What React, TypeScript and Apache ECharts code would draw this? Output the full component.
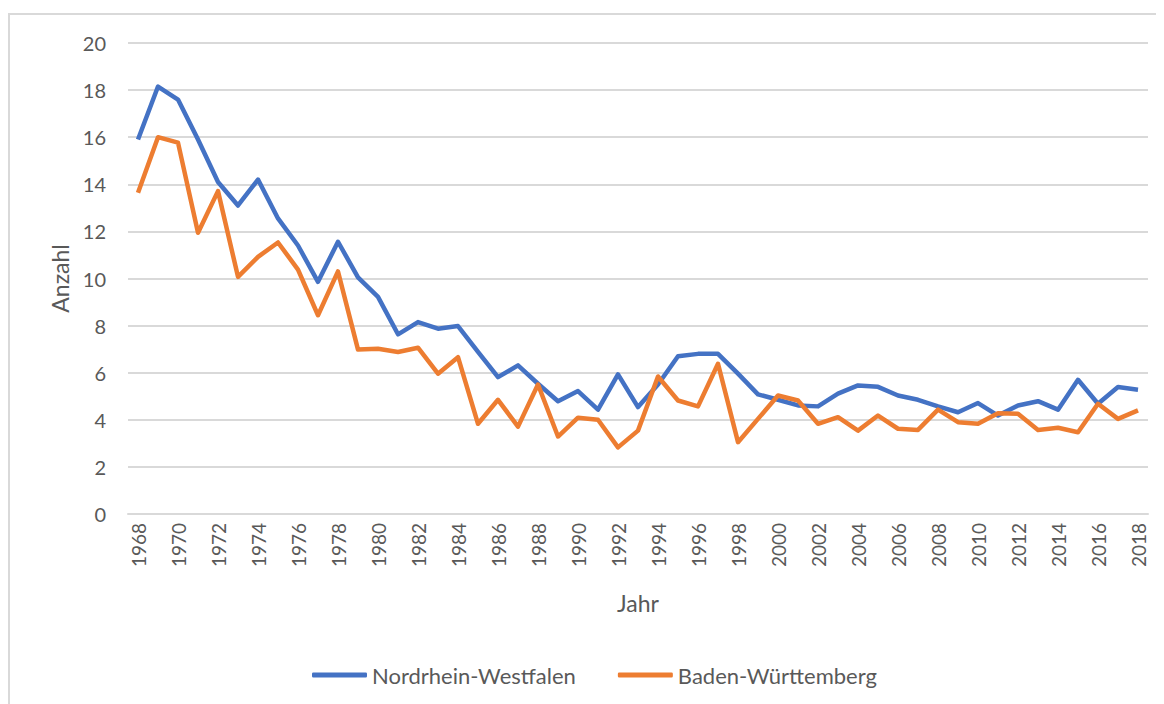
import React, { useEffect, useRef } from "react";
import * as echarts from "echarts";

const years: string[] = [];
for (let y = 1968; y <= 2018; y++) years.push(String(y));

const nrw = [
  15.9, 18.15, 17.6, 15.9, 14.1, 13.1, 14.2, 12.55, 11.4, 9.86, 11.56, 10.05,
  9.22, 7.63, 8.15, 7.87, 7.98, 6.88, 5.81, 6.31, 5.53, 4.79,
  5.22, 4.43, 5.93, 4.54, 5.5, 6.7, 6.8, 6.8, 5.96, 5.08,
  4.85, 4.61, 4.57, 5.11, 5.46, 5.4, 5.03, 4.85, 4.57, 4.32,
  4.71, 4.18, 4.61, 4.79, 4.43, 5.7, 4.68, 5.39, 5.28,
];

const bw = [
  13.64, 16.0, 15.77, 11.94, 13.71, 10.07, 10.92, 11.53, 10.38, 8.44, 10.3, 6.98,
  7.02, 6.88, 7.06, 5.96, 6.66, 3.83, 4.85, 3.71, 5.5, 3.29,
  4.09, 4.0, 2.83, 3.54, 5.84, 4.82, 4.57, 6.38, 3.05, 4.04,
  5.03, 4.82, 3.83, 4.11, 3.54, 4.18, 3.62, 3.57, 4.43, 3.9,
  3.83, 4.28, 4.26, 3.57, 3.66, 3.47, 4.68, 4.04, 4.4,
];

const seriesNames = ["Nordrhein-Westfalen", "Baden-Württemberg"];
const colors = ["#4472C4", "#ED7D31"];
const FONT = "Lato";
const TXT = "#595959";

export default function App() {
  const ref = useRef<HTMLDivElement>(null);
  useEffect(() => {
    if (!ref.current) return;
    const chart = echarts.init(ref.current, undefined, { renderer: "svg" });
    chart.setOption({
      animation: false,
      backgroundColor: "#ffffff",
      textStyle: { fontFamily: FONT },
      graphic: [
        {
          type: "rect",
          shape: { x: 1, y: 6, width: 1300, height: 900 },
          style: { fill: "none", stroke: "#d9d9d9", lineWidth: 2 },
          silent: true,
        },
      ],
      grid: { left: 120, right: 16, top: 35, bottom: 190, containLabel: false },
      legend: {
        left: 299,
        top: 651,
        itemWidth: 55,
        itemHeight: 5,
        itemGap: 42,
        icon: "roundRect",
        textStyle: { color: TXT, fontSize: 22, fontFamily: FONT },
        data: seriesNames,
      },
      xAxis: {
        type: "category",
        data: years,
        boundaryGap: true,
        name: "Jahr",
        nameLocation: "middle",
        nameGap: 77,
        nameTextStyle: { color: TXT, fontSize: 23, fontFamily: FONT },
        axisLine: { show: true, lineStyle: { color: "#d9d9d9", width: 2 } },
        axisTick: { show: false },
        axisLabel: {
          interval: 1,
          rotate: 90,
          color: TXT,
          fontSize: 19,
          fontFamily: FONT,
          margin: 9,
        },
        splitLine: { show: false },
      },
      yAxis: {
        type: "value",
        min: 0,
        max: 20,
        interval: 2,
        name: "Anzahl",
        nameLocation: "middle",
        nameGap: 54,
        nameTextStyle: { color: TXT, fontSize: 23, fontFamily: FONT },
        axisLine: { show: false },
        axisTick: { show: false },
        axisLabel: { color: TXT, fontSize: 20, fontFamily: FONT, margin: 22 },
        splitLine: { show: true, lineStyle: { color: "#d9d9d9", width: 2 } },
      },
      series: [
        {
          name: seriesNames[0],
          type: "line",
          data: nrw,
          symbol: "none",
          lineStyle: { color: colors[0], width: 4.5, join: "round" },
          itemStyle: { color: colors[0] },
        },
        {
          name: seriesNames[1],
          type: "line",
          data: bw,
          symbol: "none",
          lineStyle: { color: colors[1], width: 4.5, join: "round" },
          itemStyle: { color: colors[1] },
        },
      ],
    });
    return () => chart.dispose();
  }, []);
  return <div ref={ref} style={{ width: 1156, height: 696 }} />;
}
